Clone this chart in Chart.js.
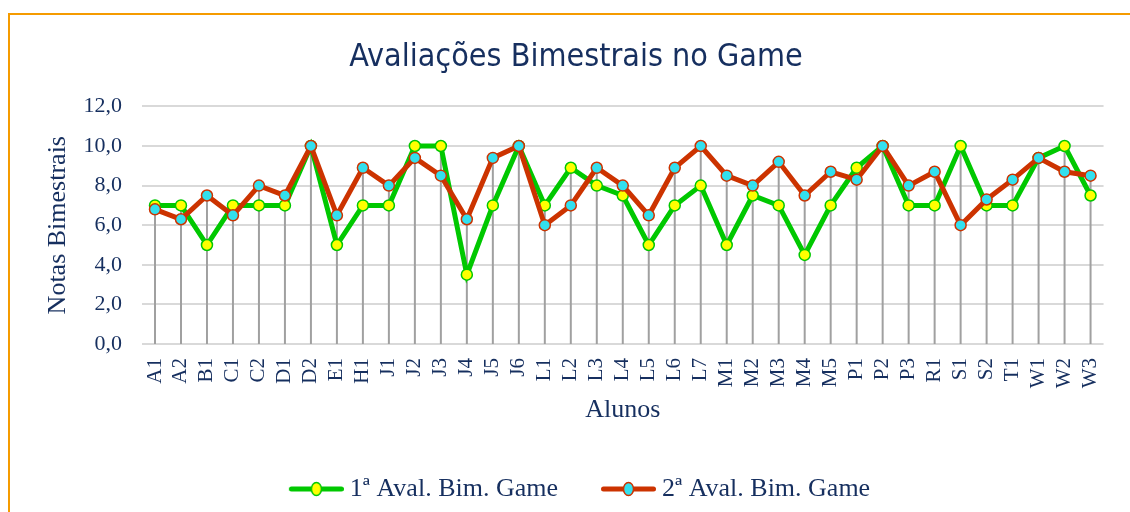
<!DOCTYPE html>
<html>
<head>
<meta charset="utf-8">
<script src="https://cdn.jsdelivr.net/npm/chart.js@4.4.1/dist/chart.umd.min.js"></script>
<style>
  html, body { margin: 0; padding: 0; background: #fff; }
  #frame {
    position: absolute; left: 8px; top: 13px; width: 1200px; height: 600px;
    border-left: 2px solid #f59b00; border-top: 2px solid #f59b00;
  }
  #chart { position: absolute; left: 0; top: 0; }
</style>
</head>
<body>
<div id="frame"></div>
<canvas id="chart" width="1130" height="512"></canvas>
<script>
const alunos = ["A1", "A2", "B1", "C1", "C2", "D1", "D2", "E1", "H1", "J1", "J2", "J3", "J4", "J5", "J6",
  "L1", "L2", "L3", "L4", "L5", "L6", "L7", "M1", "M2", "M3", "M4", "M5", "P1", "P2", "P3", "R1",
  "S1", "S2", "T1", "W1", "W2", "W3"];
const aval1 = [7.0, 7.0, 5.0, 7.0, 7.0, 7.0, 10.0, 5.0, 7.0, 7.0, 10.0, 10.0, 3.5, 7.0, 10.0,
  7.0, 8.9, 8.0, 7.5, 5.0, 7.0, 8.0, 5.0, 7.5, 7.0, 4.5, 7.0, 8.9, 10.0, 7.0, 7.0,
  10.0, 7.0, 7.0, 9.4, 10.0, 7.5];
const aval2 = [6.8, 6.3, 7.5, 6.5, 8.0, 7.5, 10.0, 6.5, 8.9, 8.0, 9.4, 8.5, 6.3, 9.4, 10.0,
  6.0, 7.0, 8.9, 8.0, 6.5, 8.9, 10.0, 8.5, 8.0, 9.2, 7.5, 8.7, 8.3, 10.0, 8.0, 8.7,
  6.0, 7.3, 8.3, 9.4, 8.7, 8.5];
const yTickLabels = ["0,0", "2,0", "4,0", "6,0", "8,0", "10,0", "12,0"];
const seriesNames = ["1ª Aval. Bim. Game", "2ª Aval. Bim. Game"];

const navy = "#162f5f";
const serif = "'Liberation Serif', 'Times New Roman', serif";

// legend sample: line with a marker in the middle
function legendMark(lineColor, fill) {
  const c = document.createElement("canvas");
  c.width = 69;
  c.height = 18;
  const g = c.getContext("2d");
  g.strokeStyle = lineColor;
  g.lineWidth = 5;
  g.lineCap = "round";
  g.beginPath();
  g.moveTo(16.5, 9);
  g.lineTo(66.5, 9);
  g.stroke();
  g.beginPath();
  g.ellipse(41.5, 9, 5, 6.5, 0, 0, Math.PI * 2);
  g.fillStyle = fill;
  g.fill();
  g.lineWidth = 1.5;
  g.stroke();
  return c;
}
const marks = [legendMark("#00c800", "#ffff00"), legendMark("#cc3300", "#33e0ee")];

const dropLines = {
  id: "dropLines",
  beforeDatasetsDraw(chart) {
    const { ctx, scales: { x, y } } = chart;
    ctx.save();
    ctx.strokeStyle = "#a0a0a0";
    ctx.lineWidth = 2;
    alunos.forEach((a, i) => {
      const px = x.getPixelForValue(i);
      ctx.beginPath();
      ctx.moveTo(px, y.getPixelForValue(Math.max(aval1[i], aval2[i])));
      ctx.lineTo(px, y.getPixelForValue(0));
      ctx.stroke();
    });
    ctx.restore();
  }
};

new Chart(document.getElementById("chart"), {
  type: "line",
  data: {
    labels: alunos,
    datasets: [
      {
        label: seriesNames[0],
        data: aval1,
        borderColor: "#00c800",
        borderWidth: 5,
        pointBackgroundColor: "#ffff00",
        pointBorderColor: "#00c800",
        pointBorderWidth: 1.5,
        pointRadius: 5.5,
        tension: 0,
        order: 1
      },
      {
        label: seriesNames[1],
        data: aval2,
        borderColor: "#cc3300",
        borderWidth: 5,
        pointBackgroundColor: "#33e0ee",
        pointBorderColor: "#cc3300",
        pointBorderWidth: 1.5,
        pointRadius: 5.5,
        tension: 0,
        order: 0
      }
    ]
  },
  options: {
    responsive: false,
    animation: false,
    devicePixelRatio: 1,
    layout: { padding: { left: 40, right: 18, top: 0, bottom: 0 } },
    plugins: {
      tooltip: { enabled: false },
      title: {
        display: true,
        text: "Avaliações Bimestrais no Game",
        color: navy,
        font: { family: "'DejaVu Sans Condensed', 'Liberation Sans Narrow', sans-serif", size: 32, weight: "normal" },
        padding: { top: 38, bottom: 30 }
      },
      legend: {
        position: "bottom",
        labels: {
          color: navy,
          font: { family: serif, size: 26 },
          usePointStyle: true,
          pointStyleWidth: 55,
          padding: 36,
          sort: (a, b) => a.datasetIndex - b.datasetIndex,
          generateLabels(chart) {
            const items = Chart.defaults.plugins.legend.labels.generateLabels(chart);
            items.forEach(it => { it.pointStyle = marks[it.datasetIndex]; });
            return items;
          }
        }
      }
    },
    scales: {
      x: {
        offset: true,
        grid: { display: false, drawTicks: false },
        border: { display: false },
        ticks: {
          color: navy,
          font: { family: serif, size: 21 },
          autoSkip: false,
          minRotation: 90,
          maxRotation: 90,
          padding: 14
        },
        title: {
          display: true,
          text: "Alunos",
          color: navy,
          font: { family: serif, size: 26 },
          padding: { top: 0, bottom: 14 }
        },
        afterFit(scale) { scale.height = 96; }
      },
      y: {
        min: 0,
        max: 12,
        grid: { color: "#d9d9d9", lineWidth: 2, drawTicks: false },
        border: { display: false },
        ticks: {
          stepSize: 2,
          color: navy,
          font: { family: serif, size: 22 },
          padding: 20,
          callback: (v, i) => yTickLabels[i]
        },
        title: {
          display: true,
          text: "Notas Bimestrais",
          color: navy,
          font: { family: serif, size: 26 },
          padding: { top: 3, bottom: 0 }
        },
        afterFit(scale) { scale.width = 102; }
      }
    }
  },
  plugins: [dropLines]
});
</script>
</body>
</html>
